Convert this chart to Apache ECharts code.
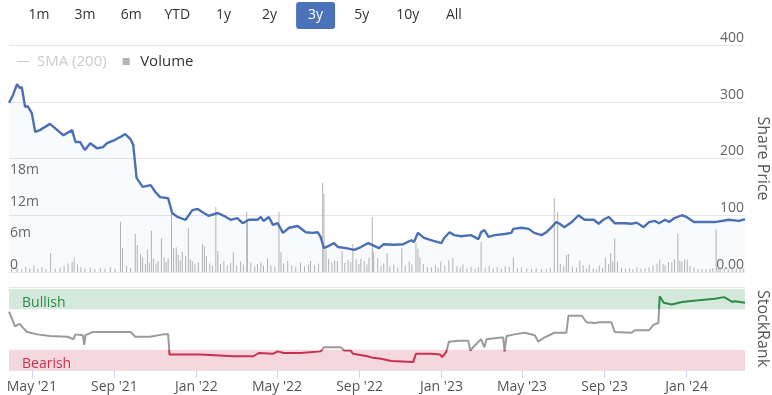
<!DOCTYPE html>
<html><head><meta charset="utf-8">
<script src="https://cdn.jsdelivr.net/npm/echarts@6/dist/echarts.min.js"></script>
<style>html,body{margin:0;padding:0;background:#fff}#c{width:772px;height:395px}</style>
</head><body><div id="c"></div>
<script>
const rangeButtons = ['1m','3m','6m','YTD','1y','2y','3y','5y','10y','All'];
const activeRange = '3y';
const xRange = ['2021-03-28','2024-03-28'];
const xTicks = ['2021-05-01','2021-09-01','2022-01-01','2022-05-01','2022-09-01','2023-01-01','2023-05-01','2023-09-01','2024-01-01'];
const volumeTicks = [0,6,12,18];
const rankTicks = [0];

const priceDates = ['2021-03-28','2021-04-03','2021-04-09','2021-04-13','2021-04-16','2021-04-21','2021-04-25','2021-05-01','2021-05-06','2021-05-13',
'2021-05-28','2021-06-08','2021-06-17','2021-06-30','2021-07-05','2021-07-12','2021-07-19','2021-07-27','2021-08-06','2021-08-15',
'2021-08-21','2021-09-02','2021-09-10','2021-09-17','2021-09-25','2021-09-29','2021-10-04','2021-10-13','2021-10-25','2021-11-01',
'2021-11-08','2021-11-20','2021-11-26','2021-12-04','2021-12-16','2021-12-26','2022-01-03','2022-01-12','2022-01-19','2022-02-02',
'2022-02-11','2022-02-21','2022-03-03','2022-03-11','2022-03-20','2022-04-02','2022-04-07','2022-04-11','2022-04-19','2022-04-25',
'2022-05-02','2022-05-10','2022-05-19','2022-06-01','2022-06-13','2022-06-23','2022-07-01','2022-07-05','2022-07-10','2022-07-17',
'2022-07-25','2022-07-31','2022-08-12','2022-08-24','2022-09-03','2022-09-14','2022-09-30','2022-10-07','2022-10-22','2022-11-05',
'2022-11-17','2022-11-21','2022-11-27','2022-12-06','2022-12-20','2023-01-01','2023-01-05','2023-01-13','2023-01-20','2023-01-30',
'2023-02-14','2023-02-25','2023-03-01','2023-03-06','2023-03-12','2023-03-21','2023-04-05','2023-04-15','2023-04-18','2023-04-30',
'2023-05-11','2023-05-19','2023-05-30','2023-06-06','2023-06-14','2023-06-21','2023-06-26','2023-07-03','2023-07-14','2023-07-24',
'2023-08-02','2023-08-16','2023-08-23','2023-08-30','2023-09-07','2023-09-16','2023-10-01','2023-10-11','2023-10-19','2023-10-29',
'2023-11-06','2023-11-15','2023-11-21','2023-11-30','2023-12-06','2023-12-14','2023-12-25','2024-01-01','2024-01-12','2024-01-24',
'2024-02-12','2024-03-04','2024-03-19','2024-03-28'];
const priceValues = [298,312,331,324,326,291,292,280,247,250,
261,250,241,250,229,229,215,227,218,220,
227,233,238,243,234,224,166,150,153,141,
132,130,104,97,92,109,111,104,99,104,
99,92,95,86,92,92,97,90,97,83,
86,69,78,81,70,69,70,62,42,46,
51,44,42,39,44,51,42,49,48,49,
56,53,69,60,55,51,60,70,65,63,
65,58,70,74,62,65,67,69,76,78,
76,69,65,70,79,88,85,79,88,100,
92,92,85,92,97,86,86,85,87,79,
88,90,86,92,88,95,100,97,88,88,
88,92,90,93];

const volumeDates = ['2021-04-01','2021-04-09','2021-04-16','2021-04-22','2021-04-28','2021-05-04','2021-05-10','2021-05-16','2021-05-22','2021-05-29',
'2021-06-05','2021-06-12','2021-06-18','2021-06-24','2021-06-30','2021-07-03','2021-07-08','2021-07-13','2021-07-19','2021-07-27',
'2021-08-03','2021-08-11','2021-08-18','2021-08-26','2021-09-02','2021-09-10','2021-09-13','2021-09-19','2021-09-25','2021-10-02',
'2021-10-05','2021-10-10','2021-10-13','2021-10-17','2021-10-20','2021-10-23','2021-10-26','2021-10-29','2021-11-02','2021-11-05',
'2021-11-10','2021-11-14','2021-11-17','2021-11-20','2021-11-25','2021-11-28','2021-12-02','2021-12-05','2021-12-08','2021-12-11',
'2021-12-16','2021-12-20','2021-12-23','2021-12-26','2021-12-30','2022-01-04','2022-01-10','2022-01-13','2022-01-16','2022-01-21',
'2022-01-25','2022-01-30','2022-02-02','2022-02-06','2022-02-11','2022-02-16','2022-02-21','2022-02-25','2022-03-02','2022-03-08',
'2022-03-12','2022-03-17','2022-03-18','2022-03-23','2022-03-29','2022-04-02','2022-04-07','2022-04-11','2022-04-17','2022-04-22',
'2022-04-28','2022-05-04','2022-05-07','2022-05-11','2022-05-17','2022-05-23','2022-05-29','2022-06-05','2022-06-11','2022-06-17',
'2022-06-20','2022-06-26','2022-07-02','2022-07-08','2022-07-10','2022-07-13','2022-07-17','2022-07-22','2022-07-26','2022-07-30',
'2022-08-06','2022-08-10','2022-08-15','2022-08-19','2022-08-22','2022-08-27','2022-08-31','2022-09-03','2022-09-08','2022-09-12',
'2022-09-15','2022-09-20','2022-09-22','2022-09-28','2022-10-03','2022-10-07','2022-10-12','2022-10-16','2022-10-22','2022-10-28',
'2022-11-03','2022-11-08','2022-11-14','2022-11-18','2022-11-24','2022-11-27','2022-11-30','2022-12-05','2022-12-11','2022-12-17',
'2022-12-23','2022-12-27','2022-12-31','2023-01-06','2023-01-12','2023-01-18','2023-01-24','2023-01-29','2023-02-02','2023-02-08',
'2023-02-14','2023-02-20','2023-02-25','2023-03-01','2023-03-07','2023-03-13','2023-03-19','2023-03-25','2023-03-31','2023-04-06',
'2023-04-12','2023-04-18','2023-04-24','2023-04-30','2023-05-08','2023-05-15','2023-05-22','2023-05-30','2023-06-06','2023-06-12',
'2023-06-18','2023-06-23','2023-06-27','2023-07-02','2023-07-06','2023-07-09','2023-07-15','2023-07-21','2023-07-26','2023-07-31',
'2023-08-05','2023-08-09','2023-08-15','2023-08-20','2023-08-24','2023-08-29','2023-09-02','2023-09-07','2023-09-10','2023-09-13',
'2023-09-16','2023-09-20','2023-09-26','2023-10-02','2023-10-08','2023-10-13','2023-10-19','2023-10-25','2023-10-31','2023-11-06',
'2023-11-12','2023-11-18','2023-11-22','2023-11-27','2023-11-30','2023-12-05','2023-12-10','2023-12-14','2023-12-19','2023-12-22',
'2023-12-25','2023-12-29','2024-01-02','2024-01-06','2024-01-12','2024-01-18','2024-01-24','2024-01-30','2024-02-05','2024-02-09',
'2024-02-14','2024-02-17','2024-02-20','2024-02-26','2024-03-03','2024-03-09','2024-03-15','2024-03-21','2024-03-26'];
const volumeValues = [0.6,0.8,0.5,1.0,0.7,1.3,0.6,0.9,0.5,3.6,
0.6,0.8,1.2,1.6,1.9,2.6,1.4,0.9,0.6,0.8,
0.5,0.7,0.6,0.9,0.6,9.5,4.5,1.2,0.8,7.2,
5.1,3.4,2.8,1.5,4.2,1.8,7.8,2.5,1.6,2.1,
6.4,2.8,1.9,2.6,12.1,4.5,4.7,3.2,2.2,3.8,
3.1,8.3,2.4,2.1,1.4,1.8,5.3,4.9,3.0,1.6,
1.2,12.3,4.0,1.5,2.1,1.3,1.7,3.8,1.2,2.0,
1.4,11.4,10.0,1.8,1.1,1.5,1.9,1.2,2.6,1.3,
1.0,11.4,3.8,1.6,2.1,1.2,1.0,1.8,1.1,1.4,
2.1,1.3,1.6,16.9,14.8,4.2,2.5,1.8,2.2,2.1,
4.0,1.7,2.3,1.9,5.3,2.4,1.5,2.5,2.1,1.4,
2.7,10.4,3.9,2.6,1.2,1.6,3.6,1.1,1.4,0.8,
4.5,1.2,2.0,1.4,5.5,4.4,2.8,1.5,1.0,0.9,
1.3,0.8,2.0,1.2,2.2,2.7,1.1,0.8,1.4,0.7,
1.0,0.6,0.9,5.7,0.8,1.2,0.7,0.9,0.6,1.1,
1.0,2.7,0.7,0.8,0.6,0.5,0.7,0.5,0.6,0.8,
14.0,11.4,1.5,1.1,3.2,3.4,1.0,0.8,2.2,1.3,
0.6,1.4,0.7,0.5,1.2,0.8,2.7,1.5,3.6,2.0,
6.4,2.0,0.8,0.6,0.7,0.5,0.9,0.6,0.7,0.9,
1.2,1.6,2.3,1.5,1.3,1.9,1.8,2.4,7.2,2.2,
2.0,2.4,2.3,1.1,0.8,0.6,0.5,0.5,0.6,0.7,
8.1,0.9,0.8,0.7,0.6,0.8,0.7,0.9,0.6];

const rankDates = ['2021-03-28','2021-04-01','2021-04-06','2021-04-13','2021-04-18','2021-04-24','2021-05-09','2021-05-28','2021-06-23','2021-07-02',
'2021-07-05','2021-07-16','2021-07-18','2021-07-20','2021-07-31','2021-08-26','2021-09-25','2021-10-02','2021-10-24','2021-11-13',
'2021-11-20','2021-11-22','2022-01-07','2022-02-25','2022-03-27','2022-04-04','2022-04-25','2022-05-02','2022-05-11','2022-06-05',
'2022-07-05','2022-07-10','2022-08-04','2022-08-09','2022-08-19','2022-08-22','2022-09-13','2022-09-21','2022-10-03','2022-10-18',
'2022-11-20','2022-11-24','2022-12-17','2022-12-30','2023-01-02','2023-01-08','2023-01-12','2023-01-27','2023-02-10','2023-02-13',
'2023-02-17','2023-03-01','2023-03-06','2023-03-09','2023-03-31','2023-04-03','2023-04-05','2023-04-08','2023-04-20','2023-05-05',
'2023-05-20','2023-05-25','2023-06-03','2023-06-18','2023-07-06','2023-07-09','2023-07-29','2023-08-05','2023-08-17','2023-08-24',
'2023-09-11','2023-09-16','2023-10-11','2023-10-16','2023-11-06','2023-11-13','2023-11-20','2023-11-22','2023-11-28','2023-12-10',
'2023-12-25','2024-01-19','2024-02-12','2024-02-26','2024-03-09','2024-03-13','2024-03-28'];
const rankValues = [72,64,54,57,52,47,44,42,41,38,
44,43,31,43,47,47,47,41,41,44,
44,19,19,17,17,21,20,23,21,21,
23,28,28,24,24,20,17,15,14,11,
10,20,20,19,16,22,35,36,36,24,
28,38,28,38,40,40,23,42,44,46,
43,35,40,46,46,67,67,59,58,59,
59,47,46,49,49,56,58,91,83,81,
84,86,88,90,84,85,83];

const rankBands = [{name:'Bearish', from:0, to:25}, {name:'Bullish', from:75, to:100}];

// styles
const FONT = '"Open Sans", "Noto Sans", sans-serif';
const bandStyle = {
  Bearish: {fill:'#f5d7de', text:'#c9304e'},
  Bullish: {fill:'#d5e8dc', text:'#2c8c45'}
};

const ts = s => { const p = s.split('-').map(Number); return Date.UTC(p[0], p[1]-1, p[2]); };
const monthNames = ['Jan','Feb','Mar','Apr','May','Jun','Jul','Aug','Sep','Oct','Nov','Dec'];
const xMin = ts(xRange[0]), xMax = ts(xRange[1]);
const tickTs = xTicks.map(ts);

const chart = echarts.init(document.getElementById('c'), null, {renderer:'canvas'});

const graphicEls = [];
rangeButtons.forEach((b, i) => {
  const cx = 39 + i * 46.1;
  const active = b === activeRange;
  if (active) graphicEls.push({type:'rect', shape:{x:cx-19.5, y:2, width:39, height:27, r:3}, style:{fill:'#4a72b8'}});
  graphicEls.push({type:'text', x:cx, y:15.5, style:{text:b, fill: active ? '#fff' : '#333', font:'14px ' + FONT,
    textAlign:'center', textVerticalAlign:'middle', align:'center', verticalAlign:'middle'}});
});

const option = {
  animation: false,
  backgroundColor: '#fff',
  textStyle: {fontFamily: FONT},
  graphic: graphicEls,
  legend: {
    left: 17, top: 54, padding: 0, itemWidth: 12, itemHeight: 7, itemGap: 16,
    textStyle: {fontSize: 15, color: '#333', fontFamily: FONT, padding:[0,0,0,3]},
    inactiveColor: '#ccc',
    selected: {'SMA (200)': false},
    data: [{name:'SMA (200)', icon:'path://M0,0H12V1H0Z'}, {name:'Volume', icon:'path://M0,0H1V1H0Z'}]
  },
  grid: [
    {left: 9, right: 27, top: 45, height: 227, containLabel: false, outerBoundsMode: 'none'},
    {left: 9, right: 27, top: 287, height: 83, containLabel: false, outerBoundsMode: 'none'}
  ],
  visualMap: {
    type: 'piecewise', show: false, seriesIndex: 3, dimension: 1,
    pieces: [{lt: 25, color: '#c9304e'}, {gte: 25, lt: 75, color: '#9a9a9a'}, {gte: 75, color: '#2c8c45'}]
  },
  xAxis: [
    {type: 'value', gridIndex: 0, min: xMin, max: xMax, show: false, splitLine: {show: false}},
    {type: 'value', gridIndex: 1, min: xMin, max: xMax,
      axisLine: {show: false},
      axisTick: {show: true, length: 8, lineStyle: {color: '#ccd6eb'}, customValues: tickTs},
      minorTick: {show: false},
      splitLine: {show: false},
      axisLabel: {customValues: tickTs, margin: 10, color: '#555', fontSize: 14, fontFamily: FONT,
        formatter: v => { const d = new Date(v); return monthNames[d.getUTCMonth()] + " '" + String(d.getUTCFullYear()).slice(2); }}
    }
  ],
  yAxis: [
    {type: 'value', gridIndex: 0, position: 'right', min: 0, max: 400, interval: 100,
      name: 'Share Price', nameLocation: 'middle', nameRotate: -90, nameGap: 7,
      nameTextStyle: {fontSize: 16, color: '#555', fontFamily: FONT},
      axisLine: {show: false}, axisTick: {show: false},
      splitLine: {show: true, lineStyle: {color: '#e6e6e6'}},
      axisLabel: {inside: true, margin: 1, verticalAlign: 'bottom', color: '#666', fontSize: 14, fontFamily: FONT,
        formatter: v => v === 0 ? '0.00' : String(v)}
    },
    {type: 'value', gridIndex: 0, position: 'left', min: 0, max: 43, interval: 6,
      axisLine: {show: false}, axisTick: {show: false}, splitLine: {show: false},
      axisLabel: {inside: true, margin: 1, verticalAlign: 'bottom', color: '#666', fontSize: 14, fontFamily: FONT,
        customValues: volumeTicks, formatter: v => v === 0 ? '0' : v + 'm'}
    },
    {type: 'value', gridIndex: 1, position: 'right', min: 0, max: 102.5, interval: 102.5,
      name: 'StockRank', nameLocation: 'middle', nameRotate: -90, nameGap: 7,
      nameTextStyle: {fontSize: 16, color: '#555', fontFamily: FONT},
      axisLine: {show: false}, axisTick: {show: false},
      splitLine: {show: true, lineStyle: {color: '#e6e6e6'}},
      axisLabel: {inside: true, margin: 1, verticalAlign: 'bottom', color: '#666', fontSize: 14, fontFamily: FONT,
        customValues: rankTicks, formatter: v => String(v)}
    }
  ],
  series: [
    {name: 'SMA (200)', type: 'line', xAxisIndex: 0, yAxisIndex: 0, data: [], symbol: 'none',
      lineStyle: {color: '#aaa', width: 1}, itemStyle: {color: '#aaa'}},
    {name: 'Volume', type: 'bar', xAxisIndex: 0, yAxisIndex: 1, barWidth: 1, z: 1,
      itemStyle: {color: '#b4b4b4'},
      data: volumeDates.map((d, i) => [ts(d), volumeValues[i]])},
    {name: 'Share Price', type: 'line', xAxisIndex: 0, yAxisIndex: 0, symbol: 'none', z: 3,
      lineStyle: {color: '#4c70b5', width: 2.4},
      itemStyle: {color: '#4c70b5'},
      areaStyle: {color: 'rgba(76,112,181,0.05)'},
      data: priceDates.map((d, i) => [ts(d), priceValues[i]])},
    {name: 'StockRank', type: 'line', xAxisIndex: 1, yAxisIndex: 2, symbol: 'none', z: 3,
      lineStyle: {width: 2},
      data: rankDates.map((d, i) => [ts(d), rankValues[i]]),
      markArea: {silent: true,
        data: rankBands.map(b => [
          {name: b.name, yAxis: b.from, itemStyle: {color: bandStyle[b.name].fill},
            label: {show: true, position: 'insideLeft', offset: [8, 4], color: bandStyle[b.name].text, fontSize: 14, fontFamily: FONT}},
          {yAxis: b.to}
        ])
      }
    }
  ]
};
chart.setOption(option);
</script>
</body></html>
